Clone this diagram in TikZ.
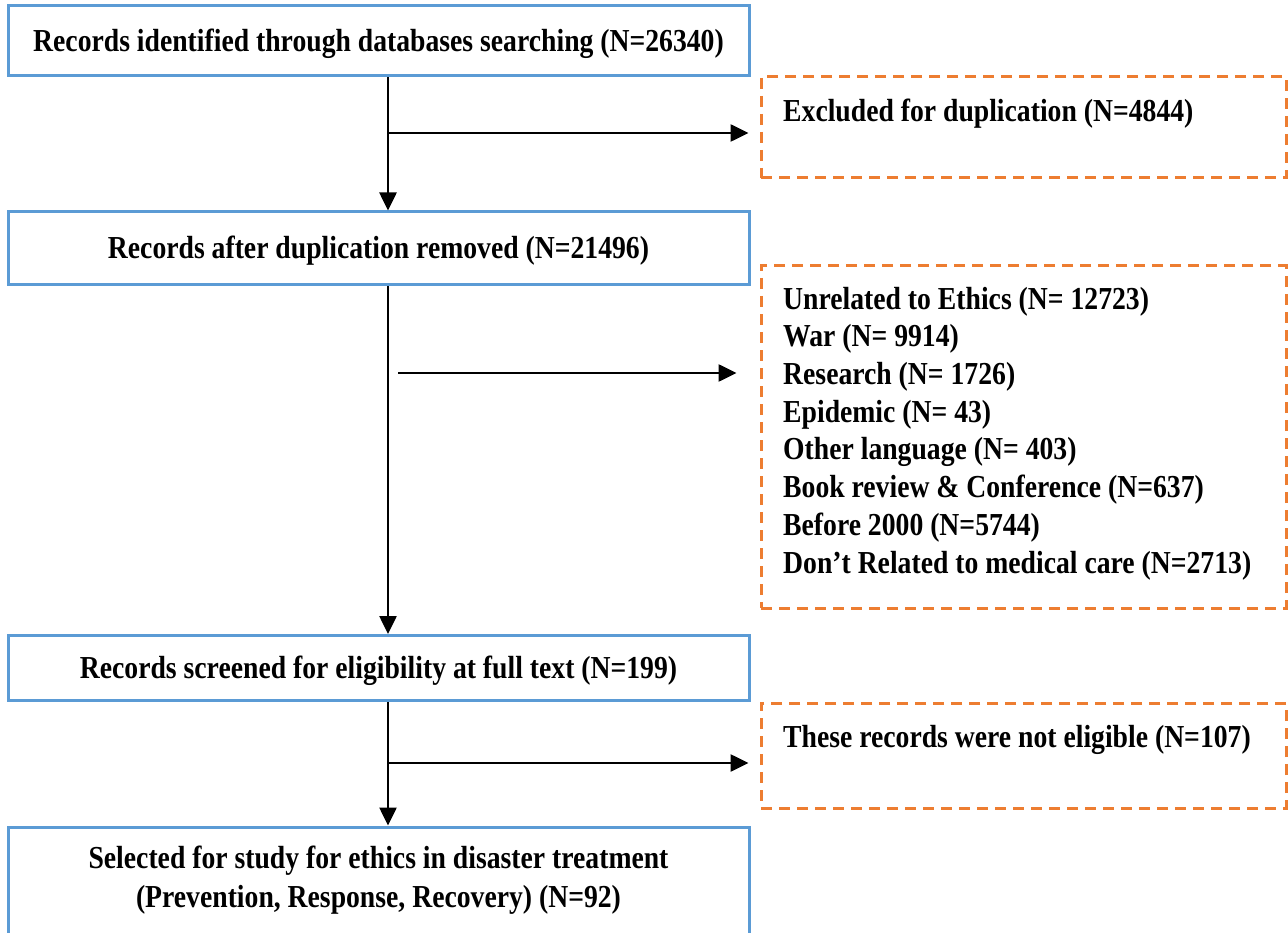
\documentclass[tikz,border=0pt]{standalone}
\usepackage{fontspec}
\setmainfont[FakeStretch=0.865]{Liberation Serif}
\usetikzlibrary{arrows.meta}
\definecolor{boxblue}{HTML}{5B9BD5}
\definecolor{boxorange}{HTML}{ED7D31}
\begin{document}
\begin{tikzpicture}[x=1pt,y=-1pt,
 bluebox/.style={draw=boxblue, line width=3pt, minimum width=741pt, inner sep=0pt, align=center, text height=21pt, text depth=0pt, font=\fontsize{32}{39}\selectfont\bfseries},
 dashbox/.style={draw=boxorange, line width=3pt, dash pattern=on 11pt off 7pt, minimum width=525pt, inner sep=0pt},
 lbl/.style={anchor=base west, align=left, inner sep=0pt, font=\fontsize{32}{37.7}\selectfont\bfseries},
 ctr/.style={anchor=base, align=center, inner sep=0pt, font=\fontsize{32}{39}\selectfont\bfseries},
 arr/.style={draw=black, line width=2.6pt, -{Triangle[length=18pt,width=17pt]}}]
\useasboundingbox (0,0) rectangle (1288,933);
\fill[white] (0,0) rectangle (1288,933);
\clip (0,0) rectangle (1288,933);
% main column
\node[bluebox, minimum height=70pt] (b1) at (378.5,41) {Records identified through databases searching (N=26340)};
\node[bluebox, minimum height=73pt] (b2) at (378.5,248.5) {Records after duplication removed (N=21496)};
\node[bluebox, minimum height=65pt] (b3) at (378.5,668) {Records screened for eligibility at full text (N=199)};
\node[bluebox, minimum height=133pt, text height=0pt] (b4) at (378.5,893.5) {};
\node[ctr] (t4) at (378.5,907) {Selected for study for ethics in disaster treatment\\(Prevention, Response, Recovery) (N=92)};
% exclusion boxes
\node[dashbox, minimum height=101pt] (d1) at (1023.5,127.5) {};
\node[lbl] (t1) at (783,122) {Excluded for duplication (N=4844)};
\node[dashbox, minimum height=342pt] (d2) at (1023.5,437) {};
\node[lbl] (t2) at (783,573) {Unrelated to Ethics (N= 12723)\\War (N= 9914)\\Research (N= 1726)\\Epidemic (N= 43)\\Other language (N= 403)\\Book review \& Conference (N=637)\\Before 2000 (N=5744)\\Don’t Related to medical care (N=2713)};
\node[dashbox, minimum height=105pt] (d3) at (1023.5,755.5) {};
\node[lbl] (t3) at (783,747) {These records were not eligible (N=107)};
% connectors
\coordinate (j1) at (388,133);
\coordinate (j2) at (388,373);
\coordinate (j2s) at (398,373);
\coordinate (j3) at (388,763);
\draw[arr] (b1.south -| j1) -- (b2.north -| j1);
\draw[arr, shorten >=11pt] (j1) -- (d1.west |- j1);
\draw[arr] (b2.south -| j2) -- (b3.north -| j2);
\draw[arr, shorten >=23pt] (j2s) -- (d2.west |- j2s);
\draw[arr] (b3.south -| j3) -- (b4.north -| j3);
\draw[arr, shorten >=11pt] (j3) -- (d3.west |- j3);
\end{tikzpicture}
\end{document}
